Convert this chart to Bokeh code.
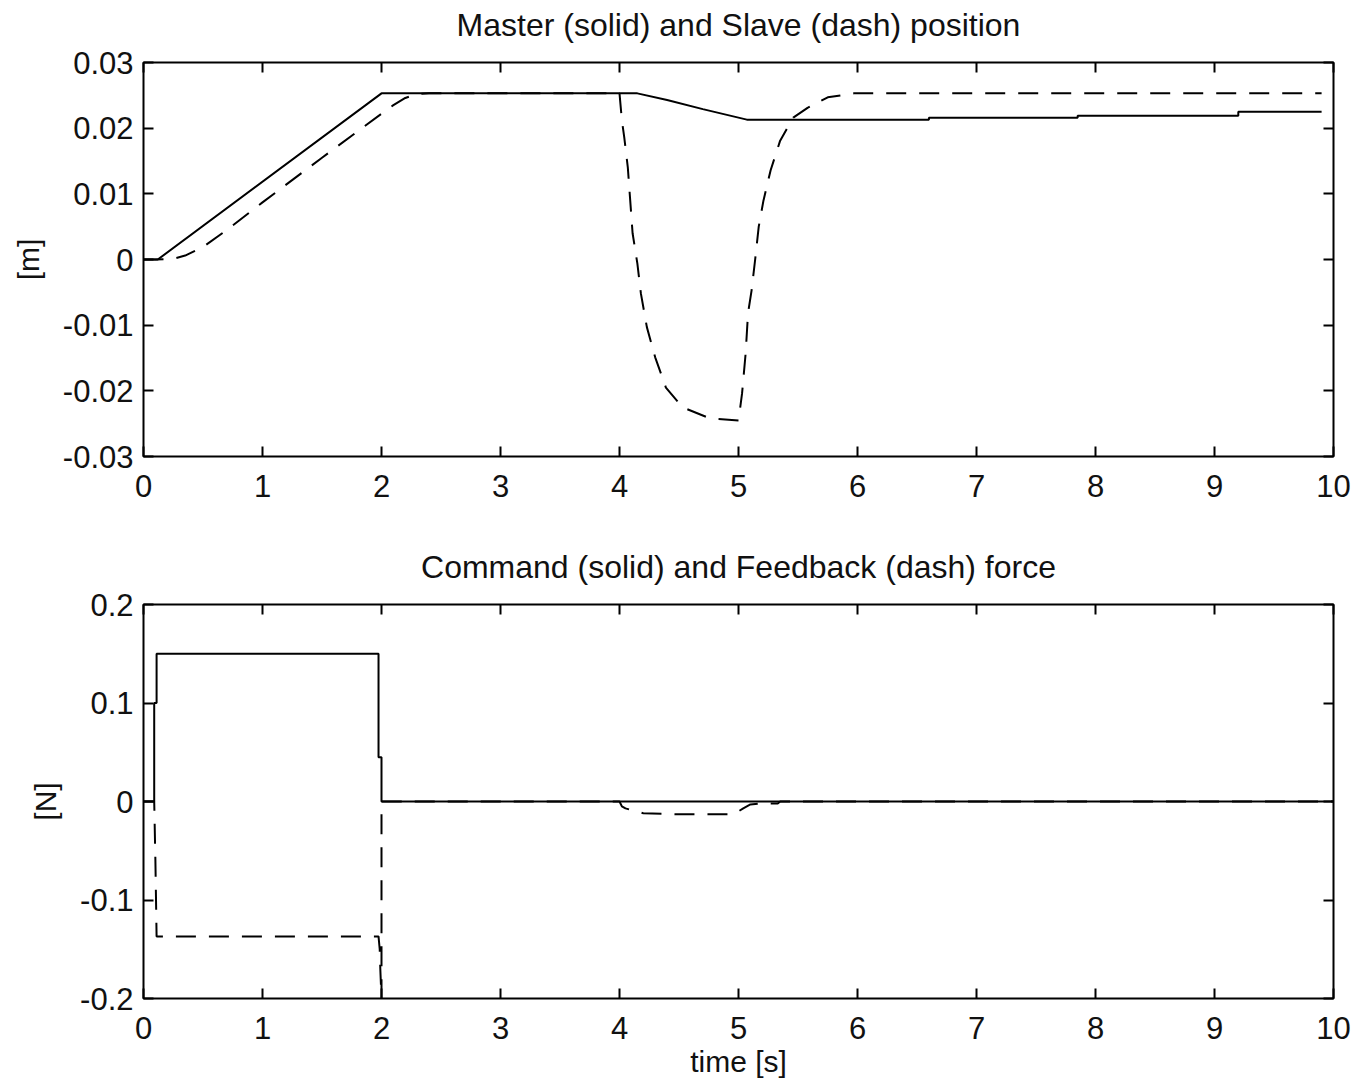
from bokeh.plotting import figure
from bokeh.models import Range1d, LinearAxis, FixedTicker
from bokeh.layouts import column
from bokeh.embed import file_html
from bokeh.resources import INLINE

# ---------------- data ----------------
master_t = [0.0, 0.12, 2.0, 4.15, 4.4, 4.7, 5.07, 6.6, 6.6, 7.85, 7.85, 9.2, 9.2, 9.9]
master_x = [0.0, 0.0, 0.0253, 0.0253, 0.0243, 0.0229, 0.0213, 0.0213, 0.0216, 0.0216, 0.0219, 0.0219, 0.0225, 0.0225]

slave_t = [0.0, 0.1, 0.25, 0.35, 0.5, 0.7, 1.0, 1.5, 2.0, 2.1, 2.2, 2.3, 2.4, 4.0,
           4.02, 4.04, 4.07, 4.09, 4.11, 4.15, 4.18, 4.23, 4.30, 4.39, 4.53, 4.76, 5.0,
           5.0, 5.03, 5.06, 5.08, 5.11, 5.14, 5.17, 5.21, 5.27, 5.35, 5.46, 5.58, 5.75, 5.97, 9.9]
slave_x = [0.0, 0.0, 0.0001, 0.0006, 0.0019, 0.0045, 0.0087, 0.0155, 0.0222, 0.0235, 0.0246, 0.0252, 0.0253, 0.0253,
           0.0212, 0.0186, 0.014, 0.009, 0.004, -0.0006, -0.0052, -0.0103, -0.0149, -0.0195, -0.0225, -0.0242, -0.0245,
           -0.0245, -0.0204, -0.0143, -0.0082, -0.0047, 0.0, 0.005, 0.009, 0.0136, 0.0181, 0.0216, 0.0231, 0.0247, 0.0253, 0.0253]

cmd_t = [0.0, 0.09, 0.09, 0.11, 0.11, 1.975, 1.975, 2.0, 2.0, 10.0]
cmd_f = [0.0, 0.0, 0.1, 0.1, 0.15, 0.15, 0.045, 0.045, 0.0, 0.0]

fb_t = [0.0, 0.09, 0.10, 0.11, 1.975, 1.985, 1.99, 2.0, 2.0, 4.0, 4.02, 4.05, 4.2, 4.5, 4.96, 5.04, 5.1, 5.18, 5.33, 5.35, 10.0]
fb_f = [0.0, 0.0, -0.06, -0.137, -0.137, -0.15, -0.17, -0.2, 0.0, 0.0, -0.005, -0.007, -0.012, -0.013, -0.013, -0.007, -0.003, -0.002, -0.002, 0.0, 0.0]

x_ticks = [0, 1, 2, 3, 4, 5, 6, 7, 8, 9, 10]
x_labels = ["0", "1", "2", "3", "4", "5", "6", "7", "8", "9", "10"]
pos_ticks = [-0.03, -0.02, -0.01, 0.0, 0.01, 0.02, 0.03]
pos_labels = ["-0.03", "-0.02", "-0.01", "0", "0.01", "0.02", "0.03"]
force_ticks = [-0.2, -0.1, 0.0, 0.1, 0.2]
force_labels = ["-0.2", "-0.1", "0", "0.1", "0.2"]

FONT = "Liberation Sans"
TXT = "#111111"


def style_axis(ax, ticks, labels, show_labels):
    ax.ticker = FixedTicker(ticks=ticks)
    if show_labels:
        ax.major_label_overrides = {t: l for t, l in zip(ticks, labels)}
        ax.major_label_text_font_size = "31px"
    else:
        ax.major_label_overrides = {t: "" for t in ticks}
        ax.major_label_text_font_size = "1px"
        ax.major_label_standoff = 0
    ax.minor_tick_line_color = None
    ax.major_tick_in = 10
    ax.major_tick_out = 0
    ax.major_tick_line_width = 2
    ax.major_tick_line_color = "black"
    ax.axis_line_color = None
    ax.major_label_text_font = FONT
    ax.major_label_text_color = TXT
    ax.axis_label_text_font = FONT
    ax.axis_label_text_font_style = "normal"
    ax.axis_label_text_color = TXT
    ax.axis_label_text_font_size = "30px"


def make_fig(title, ylab, yticks, ylabels, height, top, bottom, xlab=None):
    p = figure(width=1354, height=height, output_backend="svg", toolbar_location=None,
               x_range=Range1d(x_ticks[0], x_ticks[-1]), y_range=Range1d(yticks[0], yticks[-1]),
               min_border_left=143, min_border_right=21,
               min_border_top=top, min_border_bottom=bottom)
    p.grid.visible = False
    p.outline_line_color = "black"
    p.outline_line_width = 2
    p.background_fill_color = "white"
    p.border_fill_color = "white"

    xa = p.xaxis[0]
    style_axis(xa, x_ticks, x_labels, True)
    xa.major_label_standoff = 18
    if xlab:
        xa.axis_label = xlab
        xa.axis_label_standoff = 3
        xa.major_label_standoff = 18
    ya = p.yaxis[0]
    style_axis(ya, yticks, ylabels, True)
    ya.major_label_standoff = 10
    ya.axis_label = ylab
    ya.axis_label_standoff = 15

    ra = LinearAxis()
    style_axis(ra, yticks, ylabels, False)
    p.add_layout(ra, "right")
    # top axis: inward ticks, its axis label serves as the subplot title
    ta = LinearAxis()
    style_axis(ta, x_ticks, x_labels, False)
    ta.axis_label = title
    ta.axis_label_text_font_size = "32px"
    ta.axis_label_standoff = 20
    p.add_layout(ta, "above")
    return p


p1 = make_fig("Master (solid) and Slave (dash) position", "[m]", pos_ticks, pos_labels, 524, 62, 68)
p1.line(master_t, master_x, line_color="black", line_width=2)
p1.line(slave_t, slave_x, line_color="black", line_width=2, line_dash="20 13")

p2 = make_fig("Command (solid) and Feedback (dash) force", "[N]", force_ticks, force_labels, 558, 80, 84, "time [s]")
p2.line(cmd_t, cmd_f, line_color="black", line_width=2)
p2.line(fb_t, fb_f, line_color="black", line_width=2, line_dash="20 13")

layout = column(p1, p2, spacing=0)
open("out.html", "w").write(file_html(layout, INLINE))
